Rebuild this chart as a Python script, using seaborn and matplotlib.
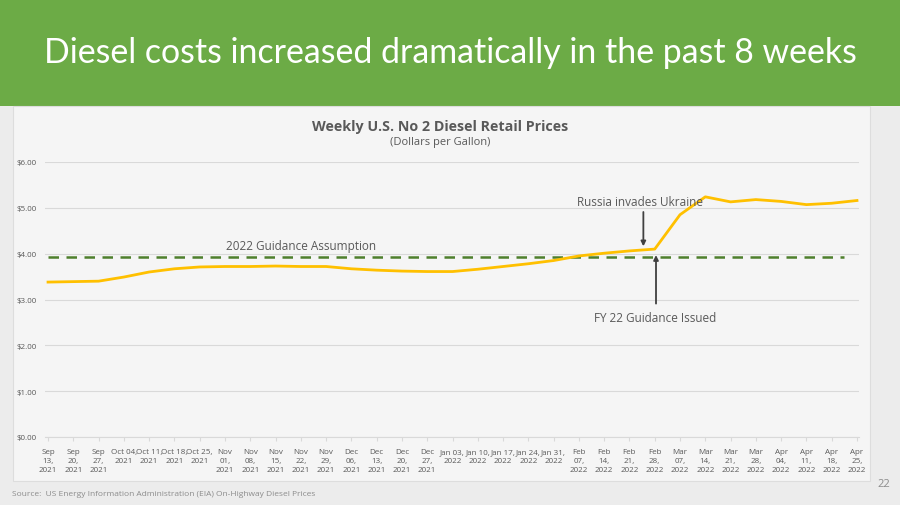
import numpy as np
import pandas as pd
import matplotlib
matplotlib.use("Agg")
import matplotlib.pyplot as plt
import seaborn as sns
from matplotlib.patches import Rectangle

# weekly dates and prices
weeks = ["Sep\n13,\n2021", "Sep\n20,\n2021", "Sep\n27,\n2021", "Oct 04,\n2021", "Oct 11,\n2021",
         "Oct 18,\n2021", "Oct 25,\n2021", "Nov\n01,\n2021", "Nov\n08,\n2021", "Nov\n15,\n2021",
         "Nov\n22,\n2021", "Nov\n29,\n2021", "Dec\n06,\n2021", "Dec\n13,\n2021", "Dec\n20,\n2021",
         "Dec\n27,\n2021", "Jan 03,\n2022", "Jan 10,\n2022", "Jan 17,\n2022", "Jan 24,\n2022",
         "Jan 31,\n2022", "Feb\n07,\n2022", "Feb\n14,\n2022", "Feb\n21,\n2022", "Feb\n28,\n2022",
         "Mar\n07,\n2022", "Mar\n14,\n2022", "Mar\n21,\n2022", "Mar\n28,\n2022", "Apr\n04,\n2022",
         "Apr\n11,\n2022", "Apr\n18,\n2022", "Apr\n25,\n2022"]
prices = [3.38, 3.39, 3.40, 3.49, 3.60, 3.67, 3.71, 3.72, 3.72, 3.73, 3.72, 3.72, 3.67, 3.64,
          3.62, 3.61, 3.61, 3.66, 3.72, 3.78, 3.85, 3.95, 4.01, 4.06, 4.10, 4.85, 5.24, 5.13,
          5.18, 5.14, 5.07, 5.10, 5.16]
guidance = 3.92
y_ticks = [0, 1, 2, 3, 4, 5, 6]

df = pd.DataFrame({"pos": np.arange(len(weeks)), "price": prices})

W, H = 900, 506
fig = plt.figure(figsize=(9, 5.06), dpi=100)
fig.patch.set_facecolor("#ececec")

# slide header band and chart panel
fig.add_artist(Rectangle((0, 1 - 107 / H), 1, 107 / H, transform=fig.transFigure,
                         facecolor="#6cab46", edgecolor="none", zorder=0))
fig.add_artist(Rectangle((13 / W, 1 - 482 / H), (870 - 13) / W, (482 - 107) / H,
                         transform=fig.transFigure, facecolor="#f5f5f5",
                         edgecolor="#dddddd", linewidth=0.8, zorder=0))

fig.text(0.5, 1 - 53 / H, "Diesel costs increased dramatically in the past 8 weeks",
         ha="center", va="center", color="white", fontsize=24.4, family="Lato")
fig.text(440 / W, 1 - 127 / H, "Weekly U.S. No 2 Diesel Retail Prices", ha="center",
         va="center", color="#595959", fontsize=10.3, fontweight="bold", family="Open Sans")
fig.text(440 / W, 1 - 143 / H, "(Dollars per Gallon)", ha="center", va="center",
         color="#595959", fontsize=8, family="Open Sans")
fig.text(12 / W, 1 - 495 / H, "Source:  US Energy Information Administration (EIA) On-Highway Diesel Prices",
         ha="left", va="center", color="#8c8c8c", fontsize=6, family="Open Sans")
fig.text(884 / W, 1 - 485 / H, "22", ha="center", va="center", color="#8c8c8c",
         fontsize=8, family="Open Sans")

ax = fig.add_axes([45 / W, 1 - 438 / H, (859 - 45) / W, (438 - 163) / H])
ax.set_facecolor("none")

sns.lineplot(data=df, x="pos", y="price", ax=ax, color="#ffc000", linewidth=2, zorder=3)
ax.plot([0, 31.5], [guidance, guidance], color="#4e7f2c", linewidth=1.8,
        linestyle=(0, (4.2, 3.0)), zorder=2)

ax.set_xlim(-0.12, 32.08)
ax.set_ylim(0, 6)
ax.set_yticks(y_ticks)
ax.set_yticklabels([f"${v:.2f}" for v in y_ticks], fontsize=5.8, color="#595959",
                   family="Open Sans")
ax.set_xticks(df["pos"])
ax.set_xticklabels(weeks, fontsize=5.75, color="#595959", family="Open Sans",
                   linespacing=1.35)
ax.tick_params(axis="y", length=0, pad=6)
ax.tick_params(axis="x", length=3, color="#d9d9d9", pad=5)
ax.grid(axis="y", color="#d9d9d9", linewidth=0.8)
ax.set_axisbelow(True)
for s in ["top", "right", "left"]:
    ax.spines[s].set_visible(False)
ax.spines["bottom"].set_color("#d9d9d9")
ax.set_xlabel("")
ax.set_ylabel("")

# annotations
ax.text(10, 4.03, "2022 Guidance Assumption", ha="center", va="bottom",
        fontsize=8.5, color="#595959", family="Open Sans")
ax.annotate("", xy=(23.55, 4.10), xytext=(23.55, 4.97),
            arrowprops=dict(arrowstyle="-|>", color="#404040", lw=1.3, mutation_scale=7))
ax.text(23.4, 5.0, "Russia invades Ukraine", ha="center", va="bottom",
        fontsize=8.5, color="#595959", family="Open Sans")
ax.annotate("", xy=(24.05, 4.03), xytext=(24.05, 2.85),
            arrowprops=dict(arrowstyle="-|>", color="#404040", lw=1.3, mutation_scale=7))
ax.text(24.0, 2.6, "FY 22 Guidance Issued", ha="center", va="center",
        fontsize=8.5, color="#595959", family="Open Sans")

fig.savefig("out.png", dpi=100, facecolor=fig.get_facecolor())
